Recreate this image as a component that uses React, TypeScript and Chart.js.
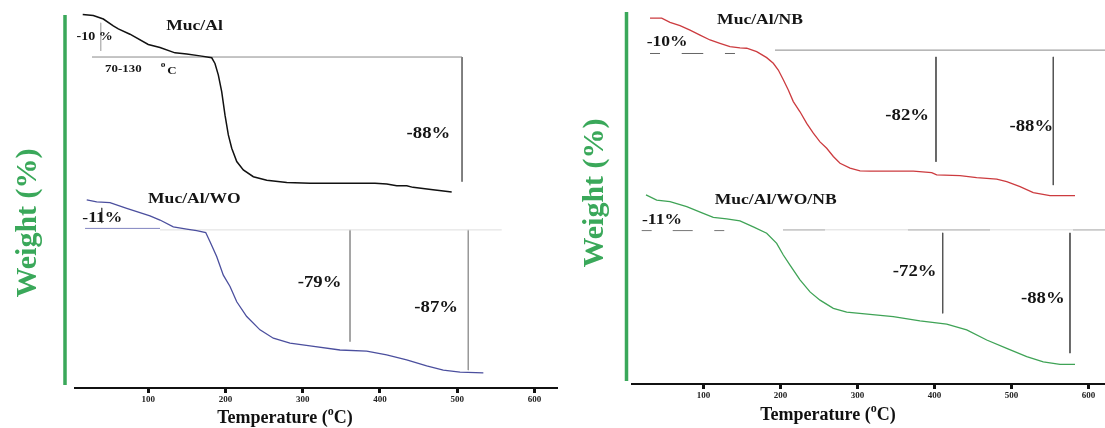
import React, { useEffect, useRef } from "react";
import { Chart, registerables } from "chart.js";
Chart.register(...registerables);

// ---------- data ----------
const xTickValues = [100, 200, 300, 400, 500, 600];

// Muc/Al (offset weight, a.u.)
const mucAlT = [15.0, 28.7, 41.7, 54.6, 61.1, 76.2, 99.9, 115.1, 134.5, 149.7, 166.9, 182.1, 186.3, 190.6, 195.0, 199.3, 203.6, 208.0, 214.5, 223.0, 236.0, 253.4, 279.3, 309.4, 393.6, 408.8, 421.7, 434.7, 442.8, 468.7, 492.9];
const mucAlW = [98.3, 98.0, 97.1, 95.3, 94.5, 93.1, 90.4, 89.6, 88.2, 87.9, 87.4, 86.9, 85.4, 82.4, 78.0, 71.8, 66.6, 63.1, 59.6, 57.4, 55.6, 54.7, 54.1, 53.9, 53.9, 53.7, 53.2, 53.2, 52.8, 52.2, 51.6];

// Muc/Al/WO
const mucAlWoT = [20.2, 33.1, 50.3, 72.0, 102.1, 115.1, 132.3, 149.7, 162.6, 174.3, 179.9, 188.5, 197.1, 205.8, 214.5, 227.4, 244.6, 261.9, 283.5, 309.4, 348.2, 382.8, 408.7, 434.6, 460.5, 482.0, 503.7, 533.9];
const mucAlWoW = [49.5, 49.0, 48.8, 47.3, 45.3, 44.2, 42.4, 41.8, 41.4, 40.9, 38.5, 34.6, 29.7, 26.7, 22.7, 18.8, 15.3, 13.1, 11.8, 11.1, 10.0, 9.7, 8.7, 7.4, 5.8, 4.7, 4.2, 4.0];

// Muc/Al/NB
const mucAlNbT = [30.4, 45.6, 56.4, 69.4, 82.4, 95.4, 108.4, 121.3, 134.3, 147.3, 156.0, 169.0, 182.0, 190.6, 197.1, 203.6, 210.1, 216.6, 225.3, 234.0, 242.6, 251.3, 260.0, 268.6, 277.3, 290.3, 303.3, 316.2, 372.5, 396.4, 402.9, 433.2, 454.9, 480.9, 493.9, 511.2, 528.4, 550.1, 582.6];
const mucAlNbW = [97.3, 97.3, 96.2, 95.3, 94.1, 92.8, 91.5, 90.6, 89.7, 89.4, 89.3, 88.4, 86.8, 85.3, 83.5, 80.9, 78.2, 75.1, 72.4, 69.3, 66.7, 64.4, 62.7, 60.5, 58.7, 57.4, 56.7, 56.6, 56.6, 56.2, 55.6, 55.4, 54.9, 54.5, 53.8, 52.5, 50.9, 50.1, 50.1];

// Muc/Al/WO/NB
const mucAlWoNbT = [25.2, 39.1, 56.4, 78.1, 99.6, 112.6, 130.0, 147.3, 164.6, 182.0, 195.0, 203.6, 212.3, 225.3, 238.3, 251.3, 268.6, 286.0, 316.2, 346.5, 381.2, 415.9, 441.9, 467.9, 493.9, 519.9, 541.4, 563.1, 582.6];
const mucAlWoNbW = [50.3, 48.9, 48.5, 47.2, 45.4, 44.3, 43.9, 43.4, 41.8, 40.1, 37.4, 34.3, 31.6, 27.7, 24.5, 22.3, 20.1, 19.1, 18.5, 17.9, 16.8, 15.9, 14.4, 11.7, 9.5, 7.3, 5.9, 5.2, 5.2];

// guide lines [t1, w1, t2, w2]
const mucAlGuides = [[27, 87.1, 506.3, 87.1], [506.3, 87.1, 506.3, 54.3], [38.3, 96.1, 38.3, 88.7]];
const mucAlWoGuides = [[18, 42.0, 115.1, 42.0], [115.1, 41.6, 557.7, 41.6], [361.2, 41.6, 361.2, 12.2], [514.4, 41.6, 514.4, 4.7], [39.6, 47.4, 39.6, 43.4]];
const mucAlNbGuides = [[30.4, 87.9, 43.4, 87.9], [71.6, 87.9, 99.6, 87.9], [127.8, 87.9, 140.8, 87.9], [192.8, 88.8, 621.6, 88.8], [402.0, 87.0, 402.0, 59.1], [554.4, 87.0, 554.4, 52.9]];
const mucAlWoNbGuides = [[19.6, 40.8, 32.6, 40.8], [59.9, 40.8, 85.9, 40.8], [113.9, 40.8, 126.9, 40.8], [203.2, 41.0, 621.6, 41.0], [203.2, 41.0, 257.8, 41.0], [365.6, 41.0, 472.2, 41.0], [580.0, 41.0, 621.6, 41.0], [410.7, 40.2, 410.7, 18.8], [576.1, 40.2, 576.1, 8.2]];

// annotation texts [text, t, w]
const leftNotes: [string, number, number][] = [
  ["Muc/Al", 159.8, 95.1], ["-10 %", 30.4, 92.3], ["70-130", 67.6, 83.9], ["o", 119, 84.9], ["C", 130.6, 83.3],
  ["-88%", 462.8, 66.8], ["Muc/Al/WO", 159.6, 49.7], ["-11%", 40.4, 44.8], ["-79%", 321.7, 27.6], ["-87%", 472.8, 21.2],
];
const rightNotes: [string, number, number][] = [
  ["Muc/Al/NB", 173.3, 96.8], ["-10%", 52.7, 91.0], ["-82%", 364.6, 71.3], ["-88%", 525.8, 68.3],
  ["Muc/Al/WO/NB", 193.7, 48.9], ["-11%", 46.0, 43.6], ["-72%", 374.3, 29.7], ["-88%", 540.8, 22.6],
];

// ---------- styling ----------
const GREEN = "#3aa85a";
const SERIF = '"Liberation Serif", "Times New Roman", serif';

function noteSize(text: string): number {
  if (text === "-10 %") return 12;
  if (text === "70-130" || text === "C") return 11;
  if (text === "o") return 8;
  if (/^Muc/.test(text)) return 15;
  if (text === "-11%" || text === "-10%") return 15;
  return 16;
}

const decorPlugin = {
  id: "decor",
  afterDraw(chart: any, _a: any, opts: any) {
    const ctx = chart.ctx as CanvasRenderingContext2D;
    const xs = chart.scales.x;
    const ys = chart.scales.y;
    ctx.save();
    // green weight axis bar
    ctx.fillStyle = GREEN;
    ctx.fillRect(opts.barX - 1.75, opts.barTop, 3.5, opts.barBottom - opts.barTop);
    // y title
    ctx.save();
    ctx.translate(opts.yTitleX, opts.yTitleY);
    ctx.rotate(-Math.PI / 2);
    ctx.font = `bold 30px ${SERIF}`;
    ctx.textAlign = "center";
    ctx.textBaseline = "middle";
    ctx.fillStyle = GREEN;
    ctx.fillText("Weight (%)", 0, 0);
    ctx.restore();
    // notes
    for (const [text, t, w] of opts.notes as [string, number, number][]) {
      const px = xs.getPixelForValue(t);
      const py = ys.getPixelForValue(w);
      ctx.save();
      ctx.translate(px, py);
      ctx.scale(1.17, 1);
      ctx.font = `bold ${noteSize(text)}px ${SERIF}`;
      ctx.textAlign = "center";
      ctx.textBaseline = "middle";
      ctx.fillStyle = "#151515";
      ctx.fillText(text, 0, 0);
      ctx.restore();
    }
    // x title with superscript
    ctx.fillStyle = "#111";
    ctx.textBaseline = "middle";
    ctx.textAlign = "left";
    const big = `bold 18px ${SERIF}`;
    const small = `bold 12px ${SERIF}`;
    ctx.font = big;
    const a = "Temperature (";
    const c = "C)";
    const wa = ctx.measureText(a).width;
    const wc = ctx.measureText(c).width;
    ctx.font = small;
    const wo = ctx.measureText("o").width;
    let x0 = opts.xTitleX - (wa + wo + wc) / 2;
    ctx.font = big;
    ctx.fillText(a, x0, opts.xTitleY);
    ctx.font = small;
    ctx.fillText("o", x0 + wa, opts.xTitleY - 6);
    ctx.font = big;
    ctx.fillText(c, x0 + wa + wo, opts.xTitleY);
    ctx.restore();
  },
};

function lineSet(t: number[], w: number[], color: string, width = 1.4) {
  return {
    data: t.map((x, i) => ({ x, y: w[i] })),
    borderColor: color,
    borderWidth: width,
    pointRadius: 0,
    fill: false,
    tension: 0,
  };
}

function guideSets(guides: number[][], colors: string[]) {
  return guides.map((g, i) => ({
    data: [{ x: g[0], y: g[1] }, { x: g[2], y: g[3] }],
    borderColor: colors[i],
    borderWidth: 1,
    pointRadius: 0,
    fill: false,
    order: 5,
  }));
}

type PanelProps = {
  left: number;
  width: number;
  datasets: any[];
  notes: [string, number, number][];
  padL: number;
  padR: number;
  xMin: number;
  xMax: number;
  axisH: number;
  decor: any;
};

function Panel(p: PanelProps) {
  const ref = useRef<HTMLCanvasElement>(null);
  useEffect(() => {
    const chart = new Chart(ref.current as HTMLCanvasElement, {
      type: "line",
      data: { datasets: p.datasets },
      plugins: [decorPlugin as any],
      options: {
        animation: false,
        responsive: false,
        devicePixelRatio: 1,
        events: [],
        layout: { padding: { left: p.padL, right: p.padR, top: 8, bottom: 0 } },
        plugins: {
          legend: { display: false },
          tooltip: { enabled: false },
          decor: { ...p.decor, notes: p.notes },
        } as any,
        scales: {
          x: {
            type: "linear",
            min: p.xMin,
            max: p.xMax,
            afterBuildTicks: (s: any) => {
              s.ticks = xTickValues.map((v) => ({ value: v }));
            },
            afterFit: (s: any) => {
              s.height = p.axisH;
            },
            grid: { display: true, drawOnChartArea: false, drawTicks: true, tickLength: 5, lineWidth: 3, color: "#111" },
            border: { display: true, color: "#111", width: 2 },
            ticks: {
              padding: 1,
              maxRotation: 0,
              autoSkip: false,
              color: "#222",
              font: { family: SERIF, size: 9, weight: "bold" },
              callback: (v: any) => String(v),
            },
          },
          y: { type: "linear", display: false, min: 0, max: 100 },
        },
      } as any,
    });
    return () => chart.destroy();
  }, []);
  return (
    <canvas
      ref={ref}
      width={p.width}
      height={428}
      style={{ position: "absolute", left: p.left, top: 0, width: p.width, height: 428 }}
    />
  );
}

export default function App() {
  const leftSets = [
    lineSet(mucAlT, mucAlW, "#111111", 1.5),
    lineSet(mucAlWoT, mucAlWoW, "#4b4f9e", 1.3),
    ...guideSets(mucAlGuides, ["#8a8a8a", "#6f6f6f", "#b8b8b8"]),
    ...guideSets(mucAlWoGuides, ["#8185c0", "#dedede", "#9a9a9a", "#9a9a9a", "#555555"]),
  ];
  const rightSets = [
    lineSet(mucAlNbT, mucAlNbW, "#cc3b3f", 1.3),
    lineSet(mucAlWoNbT, mucAlWoNbW, "#3fa356", 1.3),
    ...guideSets(mucAlNbGuides, ["#666", "#666", "#666", "#8a8a8a", "#555", "#555"]),
    ...guideSets(mucAlWoNbGuides, ["#777", "#777", "#777", "#dddddd", "#777", "#777", "#777", "#555", "#555"]),
  ];
  return (
    <div style={{ position: "absolute", left: 0, top: 0, width: 1105, height: 428, background: "#fff", overflow: "hidden" }}>
      <Panel
        left={0}
        width={560}
        datasets={leftSets}
        notes={leftNotes}
        padL={75}
        padR={4}
        xMin={5}
        xMax={628}
        axisH={40}
        decor={{ barX: 65, barTop: 15, barBottom: 385, yTitleX: 28, yTitleY: 223, xTitleX: 285, xTitleY: 418 }}
      />
      <Panel
        left={560}
        width={545}
        datasets={rightSets}
        notes={rightNotes}
        padL={72}
        padR={0}
        xMin={7}
        xMax={621.6}
        axisH={44}
        decor={{ barX: 66.5, barTop: 12, barBottom: 381, yTitleX: 35, yTitleY: 193, xTitleX: 268, xTitleY: 415 }}
      />
    </div>
  );
}
